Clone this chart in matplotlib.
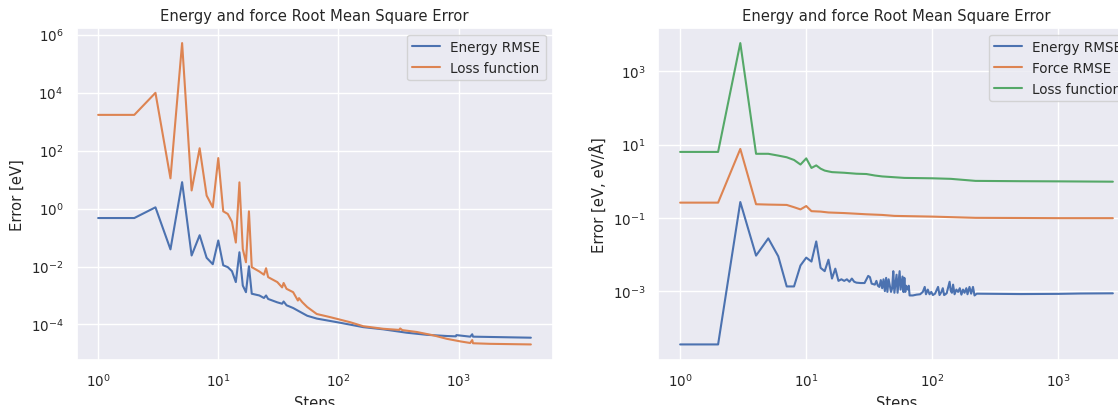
import matplotlib
matplotlib.use("Agg")
import matplotlib.pyplot as plt
import seaborn as sns

# left panel: energy RMSE and loss function
energy_steps_l = [1, 2, 3, 4, 5, 6, 7, 8, 9, 10, 11, 12, 13, 14, 15, 16, 17, 18, 19,
                  22, 24, 25, 26, 31, 34, 35, 37, 42, 46, 55, 66, 103, 161, 237, 370,
                  545, 800, 950, 960, 1250, 1300, 1320, 4000]
energy_l = [0.47, 0.47, 1.1, 0.039, 8.1, 0.024, 0.12, 0.02, 0.012, 0.079, 0.011, 0.0095,
            0.0069, 0.0029, 0.031, 0.0022, 0.0013, 0.0102, 0.00115,
            0.001, 0.00082, 0.001, 0.00076, 0.00058, 0.00052, 0.00062, 0.00046, 0.00037,
            0.0003, 0.0002, 0.00016, 0.000115, 8.1e-5, 6.8e-5, 5.2e-5,
            4.4e-5, 4.0e-5, 3.9e-5, 4.3e-5, 3.8e-5, 4.6e-5, 3.8e-5, 3.5e-5]

loss_steps_l = [1, 2, 3, 4, 5, 6, 7, 8, 9, 10, 11, 12, 13, 14, 15, 16, 17, 18, 19,
                22, 24, 25, 26, 31, 34, 35, 37, 42, 46, 47, 50, 55, 66, 85, 125, 161,
                237, 320, 327, 340, 450, 620, 800, 1040, 1250, 1300, 1320, 1830, 4000]
loss_l = [1700, 1700, 9800, 11, 5.1e5, 4.2, 120, 2.8, 1.1, 55, 0.8, 0.65, 0.35, 0.067,
          8, 0.04, 0.014, 0.8, 0.0095,
          0.0067, 0.0052, 0.0087, 0.0043, 0.0029, 0.0019, 0.0027, 0.0017, 0.0013,
          0.00067, 0.00081, 0.00059, 0.0004, 0.00023, 0.00018, 0.00012, 8.7e-5,
          7.1e-5, 6.5e-5, 7.3e-5, 6.4e-5, 5.5e-5, 4.2e-5, 3.2e-5, 2.6e-5, 2.3e-5,
          2.9e-5, 2.25e-5, 2.15e-5, 2.05e-5]

# right panel: energy RMSE, force RMSE and loss function
energy_steps_r = [1, 2, 3, 4, 5, 6, 7, 8, 9, 10, 11, 12, 13, 14, 15, 16, 17, 18, 19,
                  20, 21, 22, 23, 24, 25, 27, 29, 31, 32, 33, 35, 36, 37, 38, 39, 40,
                  41, 42, 43, 44, 45, 47, 48, 49, 50, 52, 53, 55, 56, 58, 59, 60, 61,
                  62, 64, 65, 66, 70, 75, 80, 84, 87, 89, 92, 95, 98, 101, 105, 111,
                  114, 118, 121, 124, 127, 130, 137, 140, 143, 146, 150, 155, 160, 165,
                  170, 175, 180, 186, 190, 197, 203, 210, 216, 225, 500, 1000, 1500,
                  2700]
energy_r = [3.5e-5, 3.5e-5, 0.27, 0.0093, 0.0275, 0.0089, 0.00134, 0.00134, 0.005,
            0.0082, 0.0064, 0.0227, 0.0043, 0.0035, 0.0072, 0.0022, 0.0041, 0.0019,
            0.0021, 0.0019, 0.0021, 0.0018, 0.0022, 0.0018, 0.0017, 0.00166, 0.00166,
            0.0026, 0.0024, 0.0016, 0.0015, 0.0019, 0.0014, 0.0013, 0.002, 0.0012,
            0.0021, 0.001, 0.0023, 0.00095, 0.0021, 0.00095, 0.0012, 0.0035, 0.0009,
            0.0028, 0.0009, 0.0035, 0.0011, 0.0025, 0.00094, 0.0023, 0.00095,
            0.0014, 0.0011, 0.0014, 0.00076, 0.00076, 0.0008, 0.00082, 0.00095,
            0.0013, 0.00082, 0.0011, 0.00082, 0.00095, 0.00078, 0.00085, 0.0013,
            0.00078, 0.00095, 0.0012, 0.00078, 0.00082, 0.00088, 0.0018, 0.001,
            0.0009, 0.0015, 0.00082, 0.0011, 0.00095, 0.0012, 0.0008, 0.0011,
            0.0009, 0.0012, 0.00082, 0.0013, 0.00085, 0.0013, 0.00076, 0.00085,
            0.00083, 0.00084, 0.00086, 0.00087]

force_steps_r = [1, 2, 3, 4, 5, 7, 8, 9, 10, 11, 13, 15, 20, 30, 40, 50, 100, 220,
                 500, 1000, 2700]
force_r = [0.26, 0.26, 7.6, 0.235, 0.23, 0.225, 0.195, 0.17, 0.21, 0.152, 0.148,
           0.14, 0.135, 0.125, 0.12, 0.113, 0.108, 0.1, 0.099, 0.098, 0.098]

loss_steps_r = [1, 2, 3, 4, 5, 6, 7, 8, 9, 10, 11, 12, 13, 14, 15, 16, 20, 25, 30,
                35, 40, 60, 100, 140, 220, 500, 1000, 2700]
loss_r = [6.3, 6.3, 5900, 5.6, 5.6, 5.0, 4.5, 3.8, 2.85, 4.2, 2.3, 2.7, 2.2, 1.95,
          1.85, 1.77, 1.7, 1.6, 1.57, 1.43, 1.35, 1.23, 1.2, 1.16, 1.02, 1.0, 0.99,
          0.97]

sns.set_theme(style="darkgrid", font_scale=0.885)

fig = plt.figure(figsize=(11.18, 4.06), dpi=100)
ax1 = fig.add_axes([76.5 / 1118, 45.5 / 406, 476 / 1118, 331.5 / 406])
ax2 = fig.add_axes([658.5 / 1118, 45.5 / 406, 476 / 1118, 331.5 / 406])

ax1.plot(energy_steps_l, energy_l, label="Energy RMSE")
ax1.plot(loss_steps_l, loss_l, label="Loss function")
ax1.set_xscale("log")
ax1.set_yscale("log")
ax1.set_yticks([1e-4, 1e-2, 1e0, 1e2, 1e4, 1e6])
ax1.set_xticks([1e0, 1e1, 1e2, 1e3])
ax1.minorticks_off()
ax1.set_xlabel("Steps")
ax1.set_ylabel("Error [eV]")
ax1.set_title("Energy and force Root Mean Square Error")
ax1.legend(loc="upper right")

ax2.plot(energy_steps_r, energy_r, label="Energy RMSE")
ax2.plot(force_steps_r, force_r, label="Force RMSE")
ax2.plot(loss_steps_r, loss_r, label="Loss function")
ax2.set_xscale("log")
ax2.set_yscale("log")
ax2.set_yticks([1e-3, 1e-1, 1e1, 1e3])
ax2.set_xticks([1e0, 1e1, 1e2, 1e3])
ax2.minorticks_off()
ax2.set_xlabel("Steps")
ax2.set_ylabel("Error [eV, eV/Å]")
ax2.set_title("Energy and force Root Mean Square Error")
ax2.legend(loc="upper right")

fig.savefig("out.png", dpi=100)
